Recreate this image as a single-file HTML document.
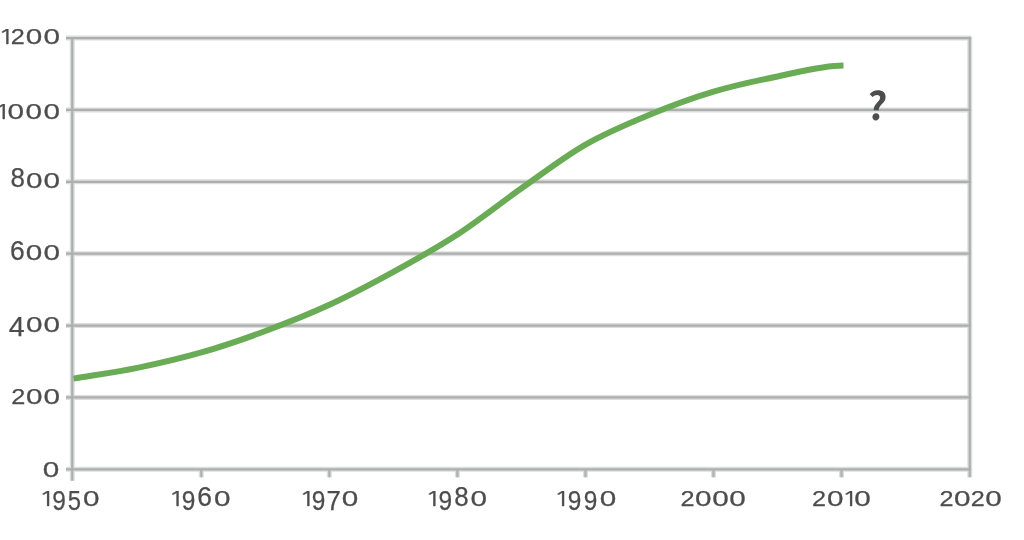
<!DOCTYPE html>
<html><head><meta charset="utf-8"><title>Chart</title>
<style>
html,body{margin:0;padding:0;background:#fff;width:1024px;height:540px;overflow:hidden}
svg{display:block}
text{font-family:"Liberation Sans",Arial,sans-serif;fill:#4d4d4d}
.lb text{stroke:#4d4d4d;stroke-width:0.25px}
</style></head><body>
<svg width="1024" height="540" viewBox="0 0 1024 540">
<g stroke="#dcdede" stroke-width="5" fill="none">
<line x1="66" y1="38.07" x2="971.15" y2="38.07"/>
<line x1="66" y1="109.94" x2="971.15" y2="109.94"/>
<line x1="66" y1="181.81" x2="971.15" y2="181.81"/>
<line x1="66" y1="253.68" x2="971.15" y2="253.68"/>
<line x1="66" y1="325.55" x2="971.15" y2="325.55"/>
<line x1="66" y1="397.42" x2="971.15" y2="397.42"/>
<line x1="66" y1="469.29" x2="971.15" y2="469.29"/>
<line x1="72.25" y1="36.97" x2="72.25" y2="480.8"/>
<line x1="969.75" y1="36.67" x2="969.75" y2="477.3"/>
<line x1="201.30" y1="469.29" x2="201.30" y2="477.3"/>
<line x1="329.35" y1="469.29" x2="329.35" y2="477.3"/>
<line x1="457.40" y1="469.29" x2="457.40" y2="477.3"/>
<line x1="585.45" y1="469.29" x2="585.45" y2="477.3"/>
<line x1="713.50" y1="469.29" x2="713.50" y2="477.3"/>
<line x1="841.55" y1="469.29" x2="841.55" y2="477.3"/>
</g>
<g stroke="#adafaf" stroke-width="2.2" fill="none">
<line x1="66" y1="38.07" x2="971.15" y2="38.07"/>
<line x1="66" y1="109.94" x2="971.15" y2="109.94"/>
<line x1="66" y1="181.81" x2="971.15" y2="181.81"/>
<line x1="66" y1="253.68" x2="971.15" y2="253.68"/>
<line x1="66" y1="325.55" x2="971.15" y2="325.55"/>
<line x1="66" y1="397.42" x2="971.15" y2="397.42"/>
<line x1="66" y1="469.29" x2="971.15" y2="469.29"/>
<line x1="72.25" y1="36.97" x2="72.25" y2="480.8"/>
<line x1="969.75" y1="36.67" x2="969.75" y2="477.3"/>
<line x1="201.30" y1="469.29" x2="201.30" y2="477.3"/>
<line x1="329.35" y1="469.29" x2="329.35" y2="477.3"/>
<line x1="457.40" y1="469.29" x2="457.40" y2="477.3"/>
<line x1="585.45" y1="469.29" x2="585.45" y2="477.3"/>
<line x1="713.50" y1="469.29" x2="713.50" y2="477.3"/>
<line x1="841.55" y1="469.29" x2="841.55" y2="477.3"/>
</g>
<path d="M73.50,378.60 C94.77,375.09 115.98,372.22 137.30,367.86 C158.62,363.50 180.05,358.58 201.40,352.43 C222.75,346.28 244.07,338.92 265.40,330.98 C286.73,323.05 308.07,314.67 329.40,304.82 C350.73,294.97 372.07,283.62 393.40,271.90 C414.73,260.18 436.05,248.41 457.40,234.48 C478.75,220.55 500.15,203.30 521.50,188.33 C542.85,173.36 564.17,156.91 585.50,144.65 C606.83,132.40 628.15,123.62 649.50,114.80 C670.85,105.98 692.25,98.10 713.60,91.71 C734.95,85.32 755.95,80.84 777.60,76.47 C799.25,72.10 821.53,65.56 843.50,65.47" fill="none" stroke="#6aab55" stroke-width="6.0" stroke-linecap="butt" stroke-linejoin="round"/>
<g class="lb">
<text><tspan x="-2.17" y="44.34" font-size="20.51" textLength="17.35" lengthAdjust="spacingAndGlyphs" font-family="NanumGothic" style="font-family:NanumGothic,'Liberation Sans',sans-serif">1</tspan><tspan x="10.70" y="44.40" font-size="21.91" textLength="14.04" lengthAdjust="spacingAndGlyphs">2</tspan><tspan x="25.87" y="44.19" font-size="21.61" textLength="16.52" lengthAdjust="spacingAndGlyphs">0</tspan><tspan x="43.64" y="44.19" font-size="21.61" textLength="16.52" lengthAdjust="spacingAndGlyphs">0</tspan></text>
<text><tspan x="-5.87" y="118.74" font-size="20.51" textLength="17.35" lengthAdjust="spacingAndGlyphs" font-family="NanumGothic" style="font-family:NanumGothic,'Liberation Sans',sans-serif">1</tspan><tspan x="7.44" y="118.59" font-size="21.61" textLength="16.52" lengthAdjust="spacingAndGlyphs">0</tspan><tspan x="25.54" y="118.59" font-size="21.61" textLength="16.52" lengthAdjust="spacingAndGlyphs">0</tspan><tspan x="43.64" y="118.59" font-size="21.61" textLength="16.52" lengthAdjust="spacingAndGlyphs">0</tspan></text>
<text><tspan x="10.47" y="187.48" font-size="27.82" textLength="14.46" lengthAdjust="spacingAndGlyphs">8</tspan><tspan x="26.04" y="187.54" font-size="21.61" textLength="16.52" lengthAdjust="spacingAndGlyphs">0</tspan><tspan x="43.64" y="187.54" font-size="21.61" textLength="16.52" lengthAdjust="spacingAndGlyphs">0</tspan></text>
<text><tspan x="9.91" y="259.64" font-size="26.98" textLength="14.70" lengthAdjust="spacingAndGlyphs">6</tspan><tspan x="25.86" y="259.69" font-size="21.61" textLength="16.52" lengthAdjust="spacingAndGlyphs">0</tspan><tspan x="43.64" y="259.69" font-size="21.61" textLength="16.52" lengthAdjust="spacingAndGlyphs">0</tspan></text>
<text><tspan x="8.74" y="335.70" font-size="27.76" textLength="16.00" lengthAdjust="spacingAndGlyphs">4</tspan><tspan x="26.04" y="331.69" font-size="21.61" textLength="16.52" lengthAdjust="spacingAndGlyphs">0</tspan><tspan x="43.54" y="331.69" font-size="21.61" textLength="16.52" lengthAdjust="spacingAndGlyphs">0</tspan></text>
<text><tspan x="11.33" y="404.25" font-size="21.91" textLength="14.04" lengthAdjust="spacingAndGlyphs">2</tspan><tspan x="26.14" y="404.04" font-size="21.61" textLength="16.52" lengthAdjust="spacingAndGlyphs">0</tspan><tspan x="43.54" y="404.04" font-size="21.61" textLength="16.52" lengthAdjust="spacingAndGlyphs">0</tspan></text>
<text><tspan x="42.74" y="476.69" font-size="21.61" textLength="16.52" lengthAdjust="spacingAndGlyphs">0</tspan></text>
</g>
<g class="lb">
<text><tspan x="38.53" y="505.74" font-size="20.51" textLength="17.35" lengthAdjust="spacingAndGlyphs" font-family="NanumGothic" style="font-family:NanumGothic,'Liberation Sans',sans-serif">1</tspan><tspan x="52.15" y="509.83" font-size="27.68" textLength="13.61" lengthAdjust="spacingAndGlyphs">9</tspan><tspan x="67.85" y="509.83" font-size="27.66" textLength="13.26" lengthAdjust="spacingAndGlyphs">5</tspan><tspan x="83.14" y="505.59" font-size="21.61" textLength="16.52" lengthAdjust="spacingAndGlyphs">0</tspan></text>
<text><tspan x="168.03" y="505.74" font-size="20.51" textLength="17.35" lengthAdjust="spacingAndGlyphs" font-family="NanumGothic" style="font-family:NanumGothic,'Liberation Sans',sans-serif">1</tspan><tspan x="181.85" y="509.83" font-size="27.68" textLength="13.61" lengthAdjust="spacingAndGlyphs">9</tspan><tspan x="197.36" y="505.54" font-size="26.98" textLength="14.70" lengthAdjust="spacingAndGlyphs">6</tspan><tspan x="214.14" y="505.59" font-size="21.61" textLength="16.52" lengthAdjust="spacingAndGlyphs">0</tspan></text>
<text><tspan x="298.83" y="505.74" font-size="20.51" textLength="17.35" lengthAdjust="spacingAndGlyphs" font-family="NanumGothic" style="font-family:NanumGothic,'Liberation Sans',sans-serif">1</tspan><tspan x="311.79" y="509.83" font-size="27.68" textLength="13.61" lengthAdjust="spacingAndGlyphs">9</tspan><tspan x="326.45" y="510.10" font-size="28.49" textLength="14.31" lengthAdjust="spacingAndGlyphs">7</tspan><tspan x="341.84" y="505.59" font-size="21.61" textLength="16.52" lengthAdjust="spacingAndGlyphs">0</tspan></text>
<text><tspan x="424.83" y="505.74" font-size="20.51" textLength="17.35" lengthAdjust="spacingAndGlyphs" font-family="NanumGothic" style="font-family:NanumGothic,'Liberation Sans',sans-serif">1</tspan><tspan x="438.55" y="509.83" font-size="27.68" textLength="13.61" lengthAdjust="spacingAndGlyphs">9</tspan><tspan x="454.17" y="505.53" font-size="27.82" textLength="14.46" lengthAdjust="spacingAndGlyphs">8</tspan><tspan x="470.64" y="505.59" font-size="21.61" textLength="16.52" lengthAdjust="spacingAndGlyphs">0</tspan></text>
<text><tspan x="553.63" y="505.74" font-size="20.51" textLength="17.35" lengthAdjust="spacingAndGlyphs" font-family="NanumGothic" style="font-family:NanumGothic,'Liberation Sans',sans-serif">1</tspan><tspan x="567.75" y="509.83" font-size="27.68" textLength="13.61" lengthAdjust="spacingAndGlyphs">9</tspan><tspan x="583.75" y="509.83" font-size="27.68" textLength="13.61" lengthAdjust="spacingAndGlyphs">9</tspan><tspan x="599.74" y="505.59" font-size="21.61" textLength="16.52" lengthAdjust="spacingAndGlyphs">0</tspan></text>
<text><tspan x="680.53" y="505.80" font-size="21.91" textLength="14.04" lengthAdjust="spacingAndGlyphs">2</tspan><tspan x="695.07" y="505.59" font-size="21.61" textLength="16.52" lengthAdjust="spacingAndGlyphs">0</tspan><tspan x="712.21" y="505.59" font-size="21.61" textLength="16.52" lengthAdjust="spacingAndGlyphs">0</tspan><tspan x="729.34" y="505.59" font-size="21.61" textLength="16.52" lengthAdjust="spacingAndGlyphs">0</tspan></text>
<text><tspan x="812.03" y="505.80" font-size="21.91" textLength="14.04" lengthAdjust="spacingAndGlyphs">2</tspan><tspan x="826.94" y="505.59" font-size="21.61" textLength="16.52" lengthAdjust="spacingAndGlyphs">0</tspan><tspan x="841.53" y="505.74" font-size="20.51" textLength="17.35" lengthAdjust="spacingAndGlyphs" font-family="NanumGothic" style="font-family:NanumGothic,'Liberation Sans',sans-serif">1</tspan><tspan x="854.24" y="505.59" font-size="21.61" textLength="16.52" lengthAdjust="spacingAndGlyphs">0</tspan></text>
<text><tspan x="939.43" y="505.80" font-size="21.91" textLength="14.04" lengthAdjust="spacingAndGlyphs">2</tspan><tspan x="953.91" y="505.59" font-size="21.61" textLength="16.52" lengthAdjust="spacingAndGlyphs">0</tspan><tspan x="970.86" y="505.80" font-size="21.91" textLength="14.04" lengthAdjust="spacingAndGlyphs">2</tspan><tspan x="985.34" y="505.59" font-size="21.61" textLength="16.52" lengthAdjust="spacingAndGlyphs">0</tspan></text>
</g>
<text transform="translate(5.14,0) skewX(-3.20)" font-family="Noto Sans CJK SC" style="font-family:'Noto Sans CJK SC','Liberation Sans',sans-serif" font-weight="bold" x="867.98" y="119.66" font-size="38.32">?</text>
</svg>
</body></html>
